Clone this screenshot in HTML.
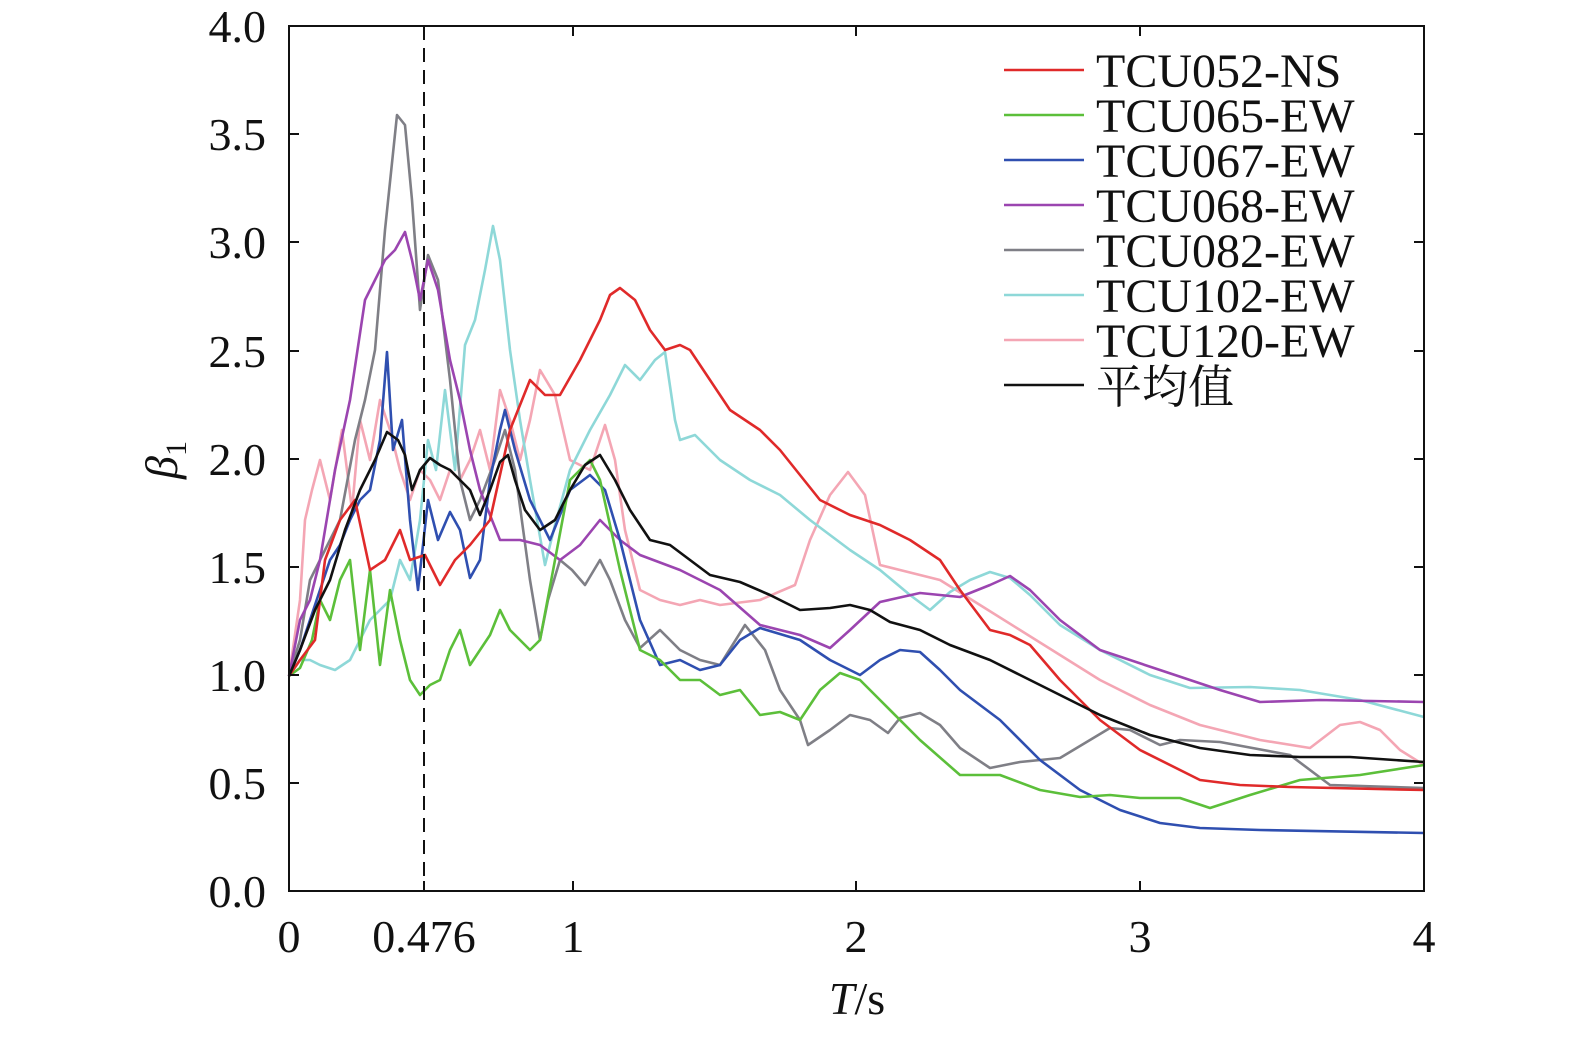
<!DOCTYPE html>
<html><head><meta charset="utf-8"><style>html,body{margin:0;padding:0;background:#fff;overflow:hidden}svg{display:block}</style></head><body>
<svg width="1575" height="1037" xmlns="http://www.w3.org/2000/svg" font-family="'Liberation Serif', 'Noto Serif CJK SC', serif">
<rect width="1575" height="1037" fill="#fff"/>
<g fill="none" stroke-width="2.6" stroke-linejoin="round">
<polyline stroke="#f4a6b4" points="289,676 300,600 305,520 312,490 320,460 330,500 342,430 352,510 360,420 370,460 380,400 390,430 400,470 410,500 420,470 430,480 440,500 450,470 460,480 470,460 480,430 490,470 500,390 510,420 520,460 530,420 540,370 555,395 570,460 590,470 605,425 615,460 625,530 640,590 660,600 680,605 700,600 720,605 760,600 795,585 810,540 830,495 848,472 865,495 880,565 900,570 940,580 980,605 1020,630 1060,655 1100,680 1150,705 1200,725 1260,740 1310,748 1340,725 1360,722 1380,730 1400,750 1424,765"/>
<polyline stroke="#8ed8d8" points="289,676 300,660 310,660 320,665 335,670 350,660 360,640 370,620 380,610 390,600 400,560 410,580 420,520 428,440 436,470 445,390 455,470 465,345 475,320 485,270 493,226 500,260 510,350 520,420 530,480 545,565 555,525 570,470 590,430 610,395 625,365 640,380 655,360 665,352 675,420 680,440 695,435 720,460 750,480 780,495 810,520 850,550 880,570 910,595 930,610 950,592 970,580 990,572 1010,578 1030,595 1060,625 1100,650 1150,675 1190,688 1250,687 1300,690 1360,700 1424,717"/>
<polyline stroke="#7f7f86" points="289,676 300,640 310,580 320,560 330,540 340,520 355,440 365,400 375,350 385,230 397,115 405,125 412,200 420,310 428,255 438,280 450,380 460,480 470,520 480,500 495,460 505,430 515,470 530,580 540,640 548,600 560,560 572,570 585,585 600,560 610,580 625,620 640,648 660,630 680,650 700,660 720,665 745,625 765,650 780,690 800,720 808,745 830,730 850,715 870,720 888,733 900,718 920,713 940,725 960,748 990,768 1020,762 1060,758 1090,740 1110,728 1130,730 1160,745 1180,740 1220,742 1290,755 1330,785 1424,788"/>
<polyline stroke="#9b45b0" points="289,676 300,620 310,600 320,560 335,470 350,400 365,300 375,280 385,260 395,250 405,232 412,260 420,300 428,260 438,290 450,360 460,400 470,450 480,490 500,540 520,540 540,545 560,560 580,545 600,520 620,540 640,555 680,570 720,590 760,625 800,635 830,648 850,630 880,602 920,593 960,597 990,585 1010,576 1030,590 1060,620 1100,650 1160,670 1220,690 1260,702 1320,700 1424,702"/>
<polyline stroke="#2f4fb0" points="289,676 300,650 310,620 320,590 330,560 340,545 350,520 360,500 370,490 380,440 387,352 393,450 402,420 410,520 418,590 428,500 438,540 450,512 460,530 470,578 480,560 490,480 500,430 505,410 515,450 530,500 550,540 570,490 590,475 605,490 620,540 640,620 660,665 680,660 700,670 720,665 740,640 760,628 800,640 830,660 860,675 880,660 900,650 920,652 940,670 960,690 1000,720 1040,760 1080,790 1120,810 1160,823 1200,828 1260,830 1424,833"/>
<polyline stroke="#5cbf3a" points="289,676 300,668 312,640 320,600 330,620 340,580 350,560 360,650 370,570 380,665 390,590 400,640 410,680 420,695 430,685 440,680 450,650 460,630 470,665 480,650 490,635 500,610 510,630 520,640 530,650 540,640 555,560 570,480 590,460 600,480 620,570 640,650 660,660 680,680 700,680 720,695 740,690 760,715 780,712 800,720 820,690 840,673 860,680 880,700 920,740 960,775 1000,775 1040,790 1080,797 1110,795 1140,798 1180,798 1210,808 1250,795 1300,780 1360,775 1424,765"/>
<polyline stroke="#e02a2a" points="289,676 300,660 315,640 325,560 340,520 355,500 370,570 385,560 400,530 410,560 425,555 440,585 455,560 470,545 490,520 510,430 530,380 545,395 560,395 580,360 600,320 610,295 620,288 635,300 650,330 665,350 680,345 690,350 710,380 730,410 760,430 780,450 800,475 820,500 850,515 880,525 910,540 940,560 960,590 990,630 1010,635 1030,645 1060,680 1100,720 1140,750 1200,780 1240,785 1290,787 1424,790"/>
<polyline stroke="#111" points="289,676 300,650 315,610 330,580 345,530 360,490 375,460 387,432 398,440 405,455 412,490 420,470 430,458 440,465 450,470 460,480 470,490 480,515 490,490 500,462 508,455 515,480 525,510 540,530 555,520 570,490 585,465 600,455 615,480 630,510 650,540 670,545 690,560 710,575 740,582 770,595 800,610 830,608 850,605 870,610 890,622 920,630 950,645 990,660 1020,675 1060,695 1100,715 1150,735 1200,748 1250,755 1300,757 1350,757 1424,762"/>
</g>
<line x1="424" y1="26" x2="424" y2="891" stroke="#111" stroke-width="2" stroke-dasharray="14,8"/>
<rect x="289" y="26" width="1135" height="865" fill="none" stroke="#111" stroke-width="2"/>
<g stroke="#111" stroke-width="2">
<line x1="573" y1="891" x2="573" y2="881"/><line x1="856" y1="891" x2="856" y2="881"/><line x1="1140" y1="891" x2="1140" y2="881"/><line x1="424" y1="891" x2="424" y2="881"/>
<line x1="573" y1="26" x2="573" y2="36"/><line x1="856" y1="26" x2="856" y2="36"/><line x1="1140" y1="26" x2="1140" y2="36"/>
<line x1="289" y1="783" x2="299" y2="783"/><line x1="289" y1="675" x2="299" y2="675"/><line x1="289" y1="567" x2="299" y2="567"/><line x1="289" y1="459" x2="299" y2="459"/><line x1="289" y1="351" x2="299" y2="351"/><line x1="289" y1="242" x2="299" y2="242"/><line x1="289" y1="134" x2="299" y2="134"/>
<line x1="1424" y1="783" x2="1414" y2="783"/><line x1="1424" y1="675" x2="1414" y2="675"/><line x1="1424" y1="567" x2="1414" y2="567"/><line x1="1424" y1="459" x2="1414" y2="459"/><line x1="1424" y1="351" x2="1414" y2="351"/><line x1="1424" y1="242" x2="1414" y2="242"/><line x1="1424" y1="134" x2="1414" y2="134"/>
</g>
<g font-size="46" fill="#111" text-anchor="end">
<text x="266" y="907">0.0</text><text x="266" y="799">0.5</text><text x="266" y="691">1.0</text><text x="266" y="583">1.5</text><text x="266" y="475">2.0</text><text x="266" y="367">2.5</text><text x="266" y="258">3.0</text><text x="266" y="150">3.5</text><text x="266" y="42">4.0</text>
</g>
<g font-size="46" fill="#111" text-anchor="middle">
<text x="289" y="952">0</text><text x="424" y="952">0.476</text><text x="573" y="952">1</text><text x="856" y="952">2</text><text x="1140" y="952">3</text><text x="1424" y="952">4</text>
<text x="857" y="1014"><tspan font-style="italic">T</tspan>/s</text>
</g>
<text transform="translate(177,460) rotate(-90)" font-size="46" fill="#111" text-anchor="middle"><tspan font-style="italic">β</tspan><tspan font-size="30" dy="9">1</tspan></text>
<g stroke-width="2.6">
<line x1="1004" y1="70" x2="1084" y2="70" stroke="#e02a2a"/>
<line x1="1004" y1="115" x2="1084" y2="115" stroke="#5cbf3a"/>
<line x1="1004" y1="160" x2="1084" y2="160" stroke="#2f4fb0"/>
<line x1="1004" y1="205" x2="1084" y2="205" stroke="#9b45b0"/>
<line x1="1004" y1="250" x2="1084" y2="250" stroke="#7f7f86"/>
<line x1="1004" y1="295" x2="1084" y2="295" stroke="#8ed8d8"/>
<line x1="1004" y1="340" x2="1084" y2="340" stroke="#f4a6b4"/>
<line x1="1004" y1="385" x2="1084" y2="385" stroke="#111"/>
</g>
<g font-size="48" fill="#111">
<text x="1096" y="87">TCU052-NS</text><text x="1096" y="132">TCU065-EW</text><text x="1096" y="177">TCU067-EW</text><text x="1096" y="222">TCU068-EW</text><text x="1096" y="267">TCU082-EW</text><text x="1096" y="312">TCU102-EW</text><text x="1096" y="357">TCU120-EW</text><text x="1096" y="403" font-size="46" font-family="'Noto Serif CJK SC', serif">平均值</text>
</g>
</svg>
</body></html>
